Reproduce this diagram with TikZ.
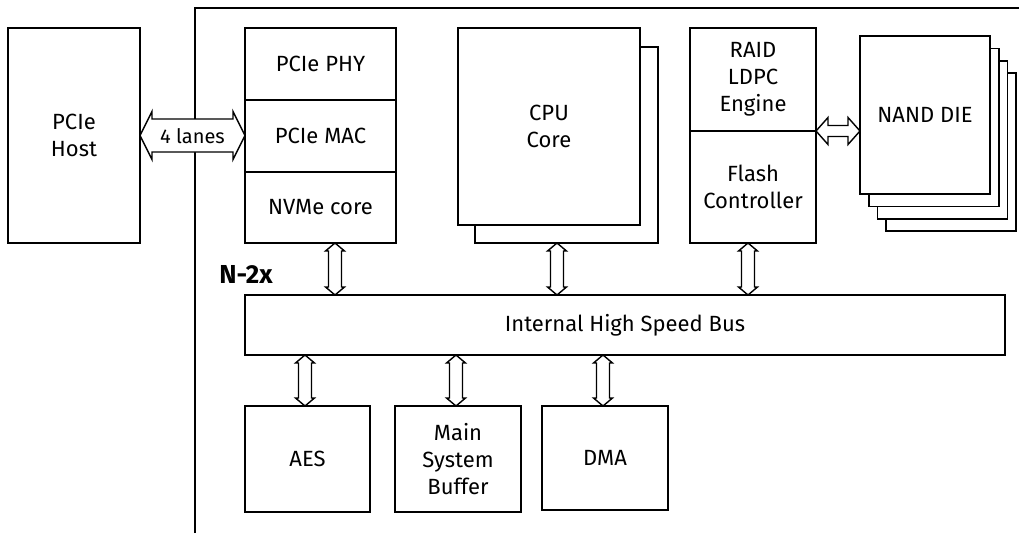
\documentclass[tikz,border=0pt]{standalone}
\usepackage{fontspec}
\setmainfont{Fira Sans}
\usetikzlibrary{calc,positioning}

\begin{document}
\begin{tikzpicture}[x=1pt,y=-1pt,line width=1.6pt,
  blk/.style={draw,fill=white,outer sep=0pt,inner sep=0pt,align=center,
    anchor=north west,font=\fontsize{22}{27}\selectfont},
  % outlined double arrow, start on the left
  hdbl/.style n args={3}{draw,fill=white,line width=1.4pt,to path={
    let \p1=(\tikztostart), \p2=(\tikztotarget) in
    (\x1,\y1) -- (\x1+#1,\y1+#2) -- (\x1+#1,\y1+#3) -- (\x2-#1,\y1+#3)
    -- (\x2-#1,\y1+#2) -- (\x2,\y1) -- (\x2-#1,\y1-#2) -- (\x2-#1,\y1-#3)
    -- (\x1+#1,\y1-#3) -- (\x1+#1,\y1-#2) -- cycle}},
  % outlined double arrow, start on top
  vdbl/.style={draw,fill=white,line width=1.4pt,to path={
    let \p1=(\tikztostart), \p2=(\tikztotarget) in
    (\x1,\y1) -- (\x1+9.5pt,\y1-8pt) -- (\x1+6.5pt,\y1-8pt) -- (\x1+6.5pt,\y2+8pt)
    -- (\x1+9.5pt,\y2+8pt) -- (\x1,\y2) -- (\x1-9.5pt,\y2+8pt) -- (\x1-6.5pt,\y2+8pt)
    -- (\x1-6.5pt,\y1-8pt) -- (\x1-9.5pt,\y1-8pt) -- cycle}}]
  \useasboundingbox (0,0) rectangle (1019,533);

  % chip outline
  \draw (195,533) -- (195,8) -- (1019,8);

  \node[blk,minimum width=132pt,minimum height=215pt] (host) at (8,28) {PCIe\\Host};

  \node[blk,minimum width=151pt,minimum height=72pt] (phy) at (245,28) {PCIe PHY};
  \node[blk,minimum width=151pt,minimum height=72pt,below=0pt of phy] (mac) {PCIe MAC};
  \node[blk,minimum width=151pt,minimum height=71pt,below=0pt of mac] (nvme) {NVMe core};

  \node[blk,minimum width=183pt,minimum height=196pt] (cpuback) at (475,47) {};
  \node[blk,minimum width=182pt,minimum height=197pt] (cpu) at (458,28) {CPU\\Core};

  \node[blk,minimum width=126pt,minimum height=103pt] (raid) at (690,28) {RAID\\LDPC\\Engine};
  \node[blk,minimum width=126pt,minimum height=112pt,below=0pt of raid] (flash) {Flash\\Controller};

  \foreach \k in {3,2,1}
    \node[blk,minimum width=130pt,minimum height=158pt] (nand\k) at (860+8.7*\k,36+12.4*\k) {};
  \node[blk,minimum width=130pt,minimum height=158pt] (nand) at (860,36) {NAND DIE};

  \node[blk,minimum width=760pt,minimum height=60pt] (bus) at (245,295) {Internal High Speed Bus};

  \node[blk,minimum width=125pt,minimum height=106pt] (aes) at (245,406) {AES};
  \node[blk,minimum width=126pt,minimum height=106pt] (buffer) at (395,406) {Main\\System\\Buffer};
  \node[blk,minimum width=126pt,minimum height=104pt] (dma) at (542,406) {DMA};

  \node[font=\fontsize{26}{30}\selectfont\bfseries] (nx) at (246,274) {N-2x};

  \draw[hdbl={12pt}{24pt}{16.5pt}] (host.east) to (mac.west);
  \node[font=\fontsize{20}{24}\selectfont] (lanes) at ($(host.east)!0.5!(mac.west)$) {4 lanes};
  \draw[hdbl={12pt}{13.5pt}{5.5pt}] (raid.south east) to (nand.west |- raid.south east);

  \draw[vdbl] ([xshift=14.5pt]nvme.south) to (bus.north);
  \draw[vdbl] ([xshift=-9.5pt]cpuback.south) to (bus.north);
  \draw[vdbl] ([xshift=-5pt]flash.south) to (bus.north);
  \draw[vdbl] ([xshift=-2.5pt]aes.north |- bus.south) to (aes.north);
  \draw[vdbl] ([xshift=-2pt]buffer.north |- bus.south) to (buffer.north);
  \draw[vdbl] ([xshift=-2pt]dma.north |- bus.south) to (dma.north);
\end{tikzpicture}
\end{document}
